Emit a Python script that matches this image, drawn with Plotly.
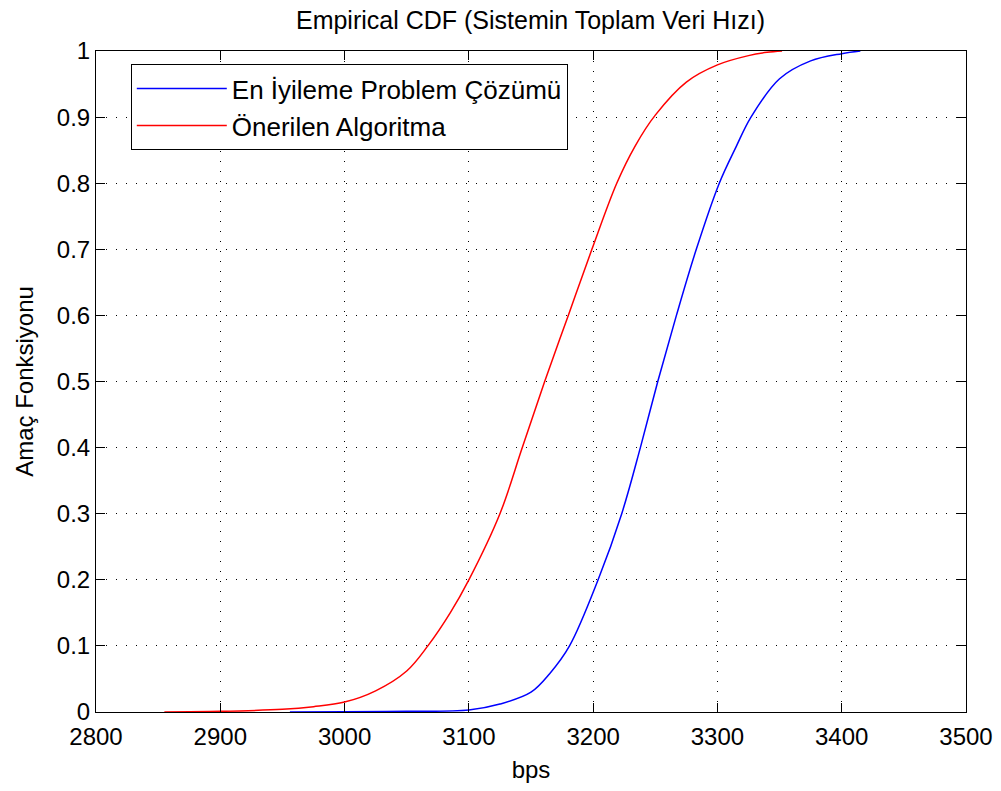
import plotly.graph_objects as go

# Empirical CDF readings (bps, cumulative probability)
opt_x = [2956, 3000, 3050, 3100, 3125, 3150, 3165, 3181, 3204, 3223, 3238, 3252,
         3267, 3283, 3301.5, 3315, 3327, 3350, 3375, 3400, 3415]
opt_y = [0.0, 0.0005, 0.001, 0.003, 0.012, 0.03, 0.058, 0.10, 0.20, 0.30, 0.40, 0.50,
         0.60, 0.70, 0.80, 0.855, 0.90, 0.958, 0.985, 0.996, 1.0]

alg_x = [2855, 2900, 2950, 2975, 3000, 3025, 3050, 3067, 3085, 3100, 3125, 3143,
         3161, 3180, 3199, 3219, 3234, 3250, 3275, 3300, 3325, 3340, 3352]
alg_y = [0.0, 0.001, 0.004, 0.008, 0.015, 0.032, 0.062, 0.10, 0.15, 0.20, 0.30, 0.40,
         0.50, 0.60, 0.70, 0.80, 0.857, 0.903, 0.953, 0.979, 0.993, 0.998, 1.0]

x_ticks = [2800, 2900, 3000, 3100, 3200, 3300, 3400, 3500]
y_ticks = [0, 0.1, 0.2, 0.3, 0.4, 0.5, 0.6, 0.7, 0.8, 0.9, 1]
y_tick_text = ["0", "0.1", "0.2", "0.3", "0.4", "0.5", "0.6", "0.7", "0.8", "0.9", "1"]

FONT = "Liberation Sans, Arial, sans-serif"

fig = go.Figure()
fig.add_trace(go.Scatter(x=alg_x, y=alg_y, mode="lines", name="Önerilen Algoritma",
                         line=dict(color="rgb(255,0,0)", width=1.5, shape="spline", smoothing=1.0)))
fig.add_trace(go.Scatter(x=opt_x, y=opt_y, mode="lines", name="En İyileme Problem Çözümü",
                         line=dict(color="rgb(0,0,255)", width=1.5, shape="spline", smoothing=1.0)))

axis_common = dict(
    showline=True, linecolor="black", linewidth=1, mirror="ticks",
    ticks="inside", ticklen=9, tickcolor="black", tickwidth=1,
    showgrid=True, gridcolor="black", gridwidth=1, griddash="1px,9px",
    zeroline=False, tickfont=dict(family=FONT, size=24, color="black"),
)

fig.update_layout(
    width=1001, height=791,
    margin=dict(l=96, r=35, t=51, b=79),
    paper_bgcolor="white", plot_bgcolor="white",
    font=dict(family=FONT, size=24, color="black"),
    title=dict(text="Empirical CDF (Sistemin Toplam Veri Hızı)", x=0.53, xanchor="center",
               y=1 - 20 / 791, yanchor="middle", font=dict(size=25, color="black")),
    xaxis=dict(range=[2800, 3500], tickvals=x_ticks, automargin=False, ticklabelstandoff=3,
               title=dict(text="bps", standoff=12, font=dict(size=24)), **axis_common),
    yaxis=dict(range=[0, 1], tickvals=y_ticks, ticktext=y_tick_text, automargin=False,
               title=dict(text="Amaç Fonksiyonu", standoff=16, font=dict(size=24)), **axis_common),
    legend=dict(x=0.04, y=0.98, xanchor="left", yanchor="top", traceorder="reversed",
                bgcolor="white", bordercolor="black", borderwidth=1,
                font=dict(family=FONT, size=26, color="black"), itemwidth=90,
                tracegroupgap=0),
    showlegend=True,
)

fig.write_html("out.html")
